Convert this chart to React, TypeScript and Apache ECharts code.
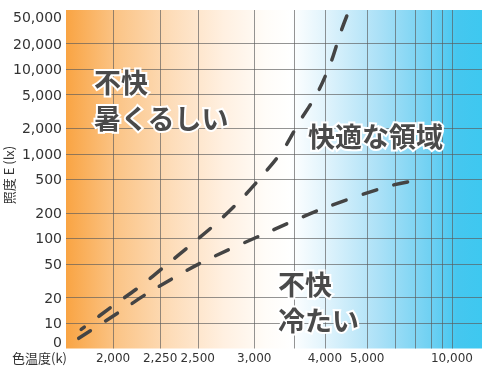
import React, { useEffect, useRef } from "react";
import * as echarts from "echarts";

// Upper boundary of comfort zone (colour temperature K, illuminance lx)
const upperTemps = [1860, 2000, 2135, 2285, 2450, 2645, 2860, 3085, 3345, 3570, 3865, 4115, 4325, 4500];
const upperLux = [8.4, 16, 27, 48, 84, 151, 284, 545, 1125, 2380, 5250, 11900, 27500, 47500];
// Lower boundary of comfort zone
const lowerTemps = [1850, 2040, 2185, 2520, 3100, 3970, 5650, 7120];
const lowerLux = [6.6, 14, 23, 51, 112, 226, 408, 489];

// Axis ticks
const luxTicks = [5, 10, 20, 50, 100, 200, 500, 1000, 2000, 5000, 10000, 20000, 50000];
const luxLabels = ["0", "10", "20", "50", "100", "200", "500", "1,000", "2,000", "5,000", "10,000", "20,000", "50,000"];
const luxGrid = [10, 20, 50, 100, 200, 500, 1000, 2000, 5000, 10000, 20000];
const tempGrid = [2000, 2250, 2500, 3000, 3500, 4000, 5000, 6000, 7000, 8000, 9000, 10000];
const tempLabels = [2000, 2250, 2500, 3000, 4000, 5000, 10000];
const tempRange = [1800, 15500];

const mired = (t: number) => 1e6 / t;
const lg = (v: number) => Math.log10(v);

export default function App() {
  const ref = useRef<HTMLDivElement>(null);
  useEffect(() => {
    if (!ref.current) return;
    const chart = echarts.init(ref.current, null, { renderer: "svg" });
    const bg = new echarts.graphic.LinearGradient(0, 0, 1, 0, [
      { offset: 0, color: "#f9a443" },
      { offset: 0.12, color: "#fbc486" },
      { offset: 0.25, color: "#fddcb8" },
      { offset: 0.38, color: "#fff0e1" },
      { offset: 0.48, color: "#fffcf8" },
      { offset: 0.54, color: "#ffffff" },
      { offset: 0.62, color: "#e2f4fc" },
      { offset: 0.75, color: "#ace1f7" },
      { offset: 0.88, color: "#6dd0f2" },
      { offset: 0.94, color: "#45c7ef" },
      { offset: 1, color: "#3ec8f0" },
    ]);
    const textStyle = (text: string, x: number, y: number) => ({
      type: "text",
      left: x,
      top: y,
      z: 10,
      style: {
        text,
        fill: "#4a4a4a",
        stroke: "#ffffff",
        lineWidth: 4,
        strokeFirst: true,
        fontSize: 27,
        fontWeight: "bold",
        fontFamily: "Noto Sans CJK JP",
      },
    });
    const lineStyle = (offset: number) => ({
      color: "#444444",
      width: 3.5,
      type: [14, 18],
      dashOffset: offset,
      cap: "round",
    });
    chart.setOption({
      animation: false,
      grid: {
        left: 66,
        right: 1,
        top: 10,
        bottom: 19.5,
        show: true,
        borderWidth: 0,
        backgroundColor: bg,
        outerBoundsMode: "none",
        containLabel: false,
      },
      xAxis: {
        type: "value",
        inverse: true,
        min: mired(tempRange[1]),
        max: mired(tempRange[0]),
        axisLine: { show: false },
        axisTick: { show: false, customValues: tempGrid.map(mired) },
        splitLine: { show: true, lineStyle: { color: "rgba(90,90,90,0.65)", width: 1 } },
        axisLabel: {
          customValues: tempLabels.map(mired),
          formatter: (v: number) => Math.round(1e6 / v).toLocaleString("en-US"),
          color: "#333",
          fontSize: 12,
          fontFamily: "DejaVu Sans",
          margin: 3,
          hideOverlap: false,
        },
      },
      yAxis: {
        type: "value",
        min: lg(luxTicks[0]),
        max: lg(luxTicks[luxTicks.length - 1]),
        axisLine: { show: false },
        axisTick: { show: false, customValues: luxGrid.map(lg) },
        splitLine: { show: true, lineStyle: { color: "rgba(90,90,90,0.65)", width: 1 } },
        axisLabel: {
          customValues: luxTicks.map(lg),
          formatter: (v: number) => {
            const n = Math.pow(10, v);
            let best = 0;
            luxTicks.forEach((t, i) => {
              if (Math.abs(t - n) < Math.abs(luxTicks[best] - n)) best = i;
            });
            return luxLabels[best];
          },
          verticalAlignMinLabel: "bottom",
          verticalAlignMaxLabel: "top",
          color: "#333",
          fontSize: 14,
          fontFamily: "DejaVu Sans",
          margin: 4,
        },
      },
      graphic: [
        {
          type: "text",
          x: 8,
          y: 175,
          rotation: Math.PI / 2,
          style: {
            text: "照度 E (lx)",
            fill: "#333",
            fontSize: 13,
            fontFamily: "Noto Sans CJK JP",
            align: "center",
            verticalAlign: "middle",
          },
        },
        {
          type: "text",
          left: 12,
          top: 351,
          style: { text: "色温度(k)", fill: "#333", fontSize: 13, fontFamily: "Noto Sans CJK JP" },
        },
        textStyle("不快", 92, 66),
        textStyle("暑くるしい", 92, 102),
        textStyle("快適な領域", 306, 120),
        textStyle("不快", 276, 268),
        textStyle("冷たい", 276, 304),
      ],
      series: [
        {
          type: "line",
          data: upperTemps.map((t, i) => [mired(t), lg(upperLux[i])]),
          smooth: 0.3,
          symbol: "none",
          lineStyle: lineStyle(10),
        },
        {
          type: "line",
          data: lowerTemps.map((t, i) => [mired(t), lg(lowerLux[i])]),
          smooth: 0.3,
          symbol: "none",
          lineStyle: lineStyle(0),
        },
      ],
    });
    return () => chart.dispose();
  }, []);
  return (
    <div
      ref={ref}
      style={{ position: "fixed", left: 0, top: 0, width: 483, height: 368 }}
    />
  );
}
